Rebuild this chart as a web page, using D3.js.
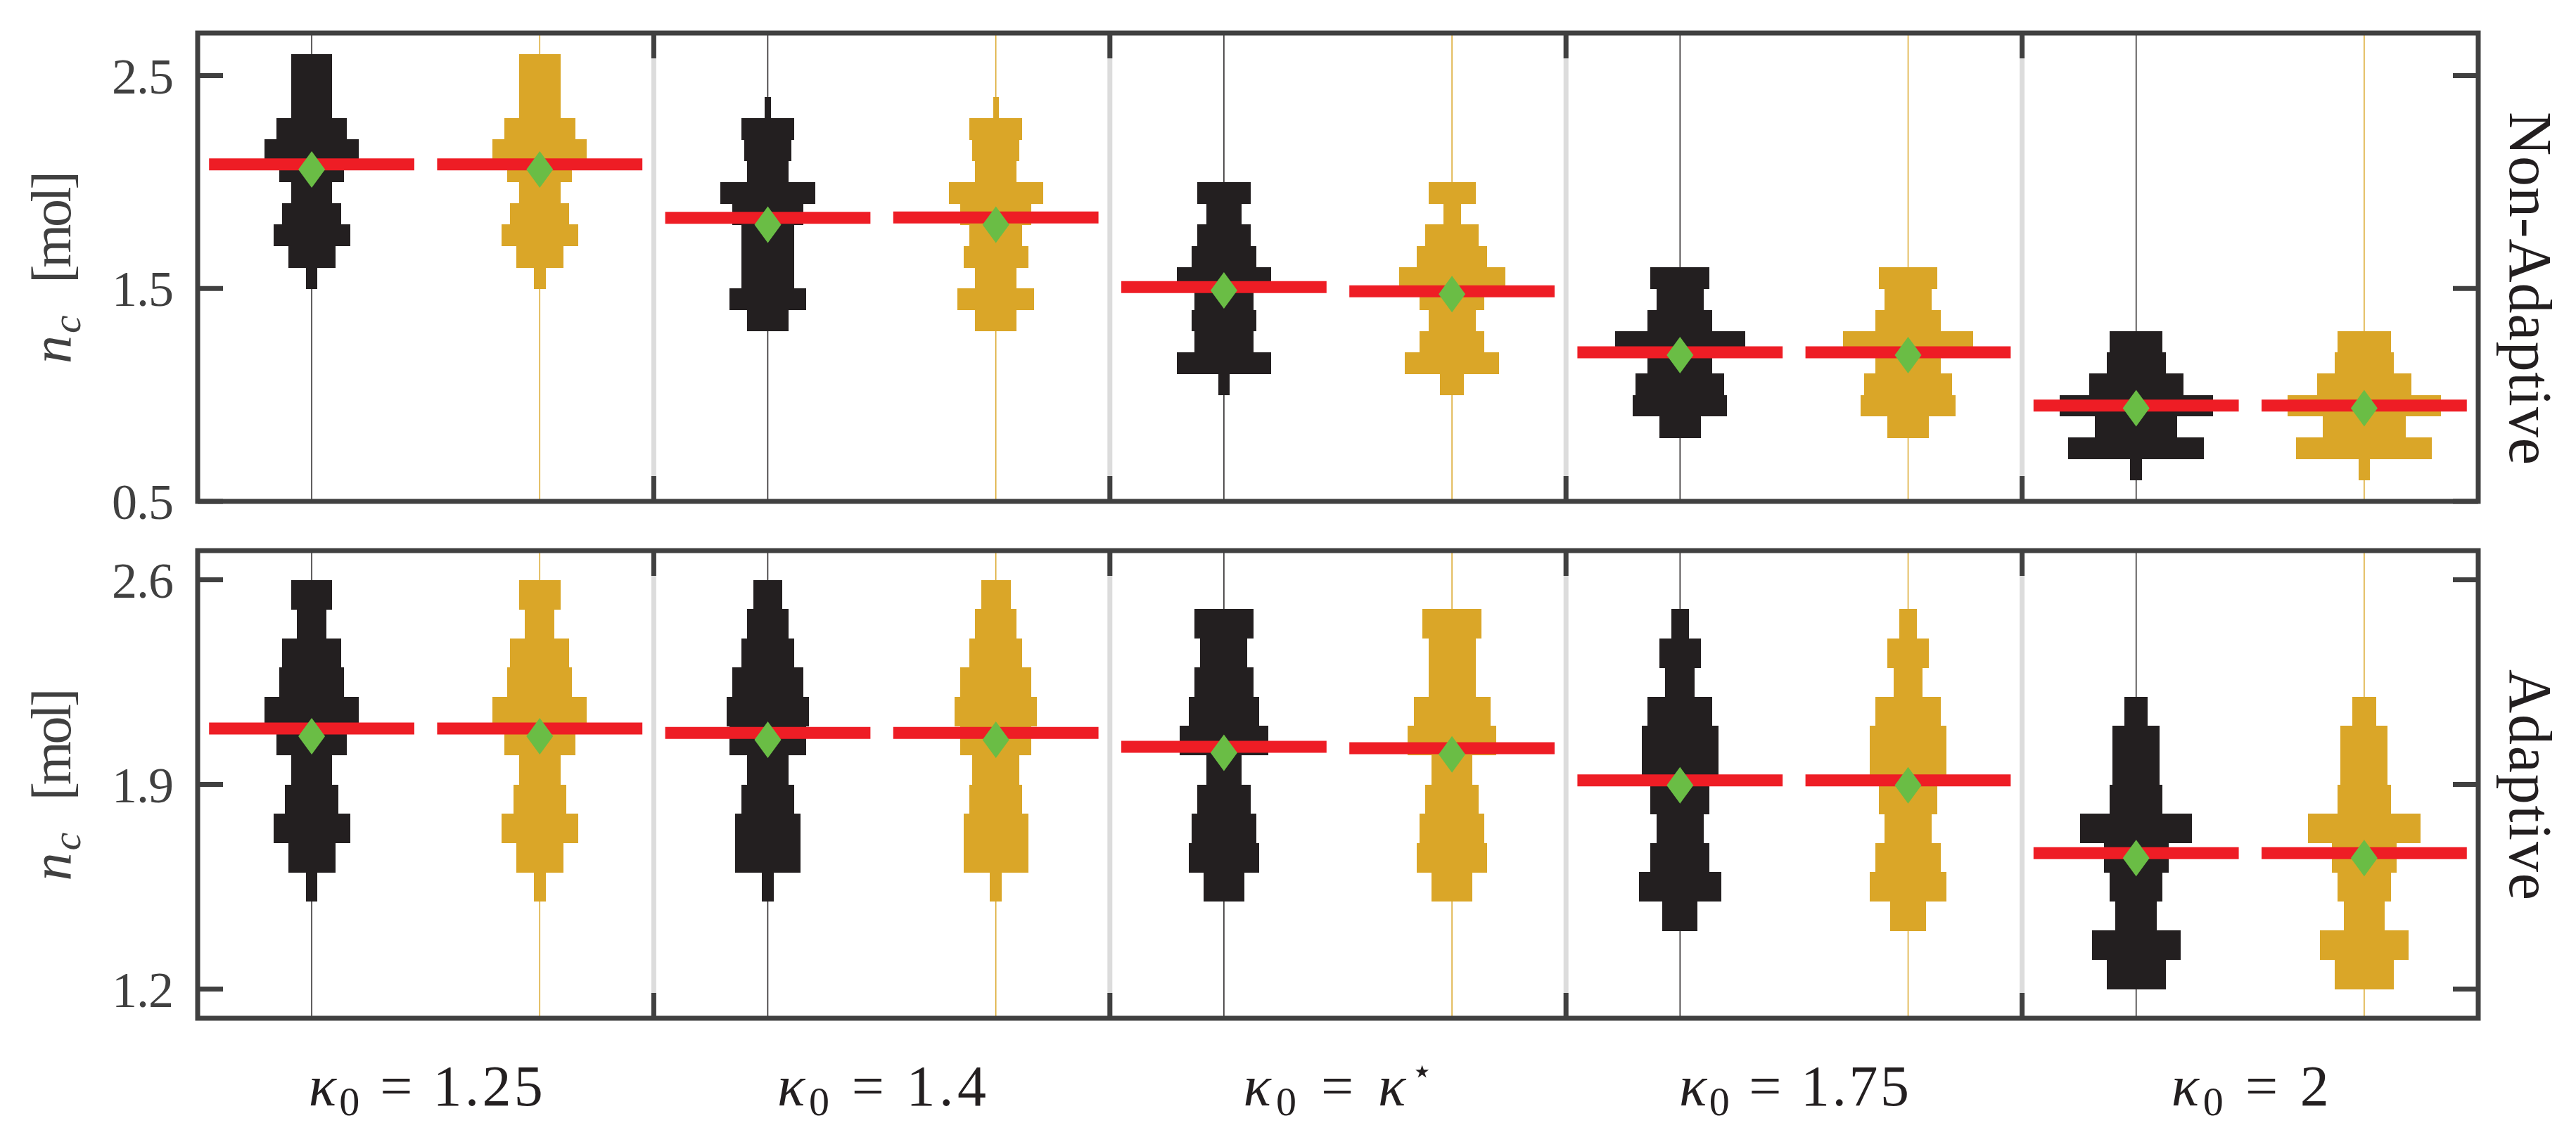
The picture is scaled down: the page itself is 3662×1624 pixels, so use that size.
<!DOCTYPE html>
<html>
<head>
<meta charset="utf-8">
<script src="https://cdn.jsdelivr.net/npm/d3@7/dist/d3.min.js"></script>
<style>
    body { margin: 0; background: #fff; }
    text { font-family: "Liberation Serif", "DejaVu Serif", serif; }
</style>
</head>
<body>
<div id="chart"></div>
<script>

/* * * * * * * * * * * * * *
*         DATA              *
* * * * * * * * * * * * * */

// x categories (kappa_0 values), last one is kappa star
const groupValues = ["1.25", "1.4", "star", "1.75", "2"];
const rowNames = ["Non-Adaptive", "Adaptive"];
const binSize = 0.1;

// histogram violins: lowest bin edge + counts per 0.1 bin (bottom -> top)
const nonAdaptiveDarkLo = [1.5, 1.3, 1.0, 0.8, 0.6];
const nonAdaptiveDarkCounts = [
    [2, 8, 13, 10, 7, 11, 16, 12, 7, 7, 7],
    [7, 13, 9, 9, 9, 12, 16, 7, 8, 9, 1],
    [2, 16, 10, 11, 10, 16, 11, 9, 6, 9],
    [7, 16, 15, 11, 22, 11, 8, 10],
    [2, 23, 14, 26, 16, 10, 9]
];
const nonAdaptiveGoldLo = [1.5, 1.3, 1.0, 0.8, 0.6];
const nonAdaptiveGoldCounts = [
    [2, 8, 13, 10, 7, 11, 16, 12, 7, 7, 7],
    [7, 13, 7, 11, 9, 12, 16, 7, 8, 9, 1],
    [4, 16, 11, 8, 11, 18, 12, 9, 3, 8],
    [7, 16, 15, 11, 22, 11, 8, 10],
    [2, 23, 14, 26, 16, 10, 9]
];
const adaptiveDarkLo = [1.5, 1.5, 1.5, 1.4, 1.2];
const adaptiveDarkCounts = [
    [2, 8, 13, 9, 7, 12, 16, 11, 10, 5, 7],
    [2, 11, 11, 9, 7, 13, 14, 12, 9, 7, 5],
    [7, 12, 11, 9, 6, 15, 12, 10, 8, 10],
    [6, 14, 10, 8, 10, 13, 13, 11, 5, 7, 3],
    [10, 15, 7, 9, 11, 19, 9, 8, 8, 4]
];
const adaptiveGoldLo = [1.5, 1.5, 1.5, 1.4, 1.2];
const adaptiveGoldCounts = [
    [2, 8, 13, 9, 7, 12, 16, 11, 10, 5, 7],
    [2, 11, 11, 9, 8, 12, 14, 12, 9, 7, 5],
    [7, 12, 11, 9, 7, 15, 13, 8, 8, 10],
    [6, 13, 11, 8, 10, 13, 13, 11, 5, 7, 3],
    [10, 15, 7, 9, 11, 19, 9, 8, 8, 4]
];

// means (red bars) and medians (green diamonds)
const nonAdaptiveDarkMean = [2.083, 1.832, 1.507, 1.200, 0.950];
const nonAdaptiveGoldMean = [2.083, 1.834, 1.487, 1.200, 0.950];
const nonAdaptiveDarkMedian = [2.059, 1.800, 1.491, 1.187, 0.938];
const nonAdaptiveGoldMedian = [2.059, 1.800, 1.474, 1.187, 0.938];
const adaptiveDarkMean = [2.091, 2.076, 2.029, 1.914, 1.665];
const adaptiveGoldMean = [2.091, 2.076, 2.024, 1.914, 1.665];
const adaptiveDarkMedian = [2.065, 2.053, 2.008, 1.897, 1.648];
const adaptiveGoldMedian = [2.065, 2.053, 2.003, 1.897, 1.648];

// axes
const nonAdaptiveTicks = [0.5, 1.5, 2.5];
const nonAdaptiveDomain = [0.5, 2.7];
const adaptiveTicks = [1.2, 1.9, 2.6];
const adaptiveDomain = [1.1, 2.7];


/* * * * * * * * * * * * * *
*         LAYOUT            *
* * * * * * * * * * * * * */

const width = 3662, height = 1624;
const plotLeft = 281, plotRight = 3523;
const frameColor = '#404040';
const colors = {dark: '#231f20', gold: '#daa628', mean: '#ee1d25', median: '#6abd45', grid: '#dcdcdc'};
const tickLen = 36;
const serif = '"Liberation Serif", "DejaVu Serif", serif';

function makeViolins(lo, counts, mean, median, series) {
    return counts.map((c, g) => ({
        group: g, series: series, lo: lo[g], counts: c, mean: mean[g], median: median[g]
    }));
}

const panels = [
    {
        name: rowNames[0], top: 47, bottom: 713, domain: nonAdaptiveDomain, ticks: nonAdaptiveTicks,
        violins: makeViolins(nonAdaptiveDarkLo, nonAdaptiveDarkCounts, nonAdaptiveDarkMean, nonAdaptiveDarkMedian, 0)
            .concat(makeViolins(nonAdaptiveGoldLo, nonAdaptiveGoldCounts, nonAdaptiveGoldMean, nonAdaptiveGoldMedian, 1)),
        labelY: 410, labelLen: 502
    },
    {
        name: rowNames[1], top: 783, bottom: 1448, domain: adaptiveDomain, ticks: adaptiveTicks,
        violins: makeViolins(adaptiveDarkLo, adaptiveDarkCounts, adaptiveDarkMean, adaptiveDarkMedian, 0)
            .concat(makeViolins(adaptiveGoldLo, adaptiveGoldCounts, adaptiveGoldMean, adaptiveGoldMedian, 1)),
        labelY: 1116, labelLen: 328
    }
];

const svg = d3.select('#chart').append('svg')
    .attr('width', width)
    .attr('height', height)
    .attr('font-family', serif);

// 10 slots, 2 per group
const x = d3.scaleLinear().domain([0, 10]).range([plotLeft, plotRight]);
const slot = d => d.group * 2 + d.series + 0.5;
// full violin width per count
const w = d3.scaleLinear().domain([0, 26]).range([0, 218]);
const dividers = [2, 4, 6, 8];

panels.forEach(p => {
    const y = d3.scaleLinear().domain(p.domain).range([p.bottom, p.top]);
    const g = svg.append('g');

    // light group separators
    g.selectAll('.divider')
        .data(dividers)
        .join('line')
        .attr('x1', d => x(d)).attr('x2', d => x(d))
        .attr('y1', p.top).attr('y2', p.bottom)
        .attr('stroke', colors.grid)
        .attr('stroke-width', 7);

    // thin centre lines
    g.selectAll('.centre')
        .data(p.violins)
        .join('line')
        .attr('x1', d => x(slot(d))).attr('x2', d => x(slot(d)))
        .attr('y1', p.top).attr('y2', p.bottom)
        .attr('stroke', d => d.series ? colors.gold : colors.dark)
        .attr('stroke-width', 1.5);

    // histogram violins
    p.violins.forEach(v => {
        const bins = v.counts.map((c, i) => ({c: c, a: v.lo + i * binSize, b: v.lo + (i + 1) * binSize}));
        g.append('g')
            .attr('shape-rendering', 'crispEdges')
            .selectAll('rect')
            .data(bins)
            .join('rect')
            .attr('x', d => x(slot(v)) - w(d.c) / 2)
            .attr('width', d => w(d.c))
            .attr('y', d => y(d.b))
            .attr('height', d => y(d.a) - y(d.b) + 0.5)
            .attr('fill', v.series ? colors.gold : colors.dark);
    });

    // mean bars
    g.selectAll('.mean')
        .data(p.violins)
        .join('line')
        .attr('x1', d => x(slot(d) - 0.45)).attr('x2', d => x(slot(d) + 0.45))
        .attr('y1', d => y(d.mean)).attr('y2', d => y(d.mean))
        .attr('stroke', colors.mean)
        .attr('stroke-width', 17);

    // median diamonds
    g.selectAll('.median')
        .data(p.violins)
        .join('path')
        .attr('d', d => {
            const cx = x(slot(d)), cy = y(d.median);
            return `M${cx},${cy - 26}L${cx + 19},${cy}L${cx},${cy + 26}L${cx - 19},${cy}Z`;
        })
        .attr('fill', colors.median);

    // frame
    g.append('rect')
        .attr('x', plotLeft).attr('y', p.top)
        .attr('width', plotRight - plotLeft).attr('height', p.bottom - p.top)
        .attr('fill', 'none')
        .attr('stroke', frameColor)
        .attr('stroke-width', 7);

    // group ticks on top and bottom edges
    dividers.forEach(d => {
        [[p.top, p.top + tickLen], [p.bottom - tickLen, p.bottom]].forEach(seg => {
            g.append('line')
                .attr('x1', x(d)).attr('x2', x(d))
                .attr('y1', seg[0]).attr('y2', seg[1])
                .attr('stroke', frameColor)
                .attr('stroke-width', 7);
        });
    });

    // y ticks, left and right
    g.selectAll('.ytick')
        .data(p.ticks)
        .join('g')
        .each(function(t) {
            const s = d3.select(this);
            s.append('line')
                .attr('x1', plotLeft).attr('x2', plotLeft + tickLen)
                .attr('y1', y(t)).attr('y2', y(t))
                .attr('stroke', frameColor).attr('stroke-width', 7);
            s.append('line')
                .attr('x1', plotRight - tickLen).attr('x2', plotRight)
                .attr('y1', y(t)).attr('y2', y(t))
                .attr('stroke', frameColor).attr('stroke-width', 7);
            s.append('text')
                .attr('x', plotLeft - 34)
                .attr('y', y(t))
                .attr('dy', '0.35em')
                .attr('text-anchor', 'end')
                .attr('font-size', 72)
                .attr('fill', frameColor)
                .attr('textLength', 88)
                .text(t.toFixed(1));
        });

    // y axis label: n_c [mol], pieces laid out along the rotated axis
    const mid = (p.top + p.bottom) / 2;
    const yl = g.append('g')
        .attr('transform', `translate(100,${mid}) rotate(-90)`)
        .attr('fill', frameColor);
    yl.append('text')
        .attr('x', -137).attr('font-size', 80).attr('font-style', 'italic')
        .attr('textLength', 40).text('n');
    yl.append('text')
        .attr('x', -94).attr('y', 14).attr('font-size', 58).attr('font-style', 'italic')
        .attr('textLength', 27).text('c');
    yl.append('text')
        .attr('x', -23).attr('font-size', 80)
        .attr('textLength', 160).text('[mol]');

    // row label on the right
    g.append('text')
        .attr('transform', `translate(3568,${p.labelY}) rotate(90)`)
        .attr('text-anchor', 'middle')
        .attr('font-size', 86)
        .attr('fill', colors.dark)
        .attr('textLength', p.labelLen)
        .text(p.name);
});

// x labels: kappa_0 = ...
const xLabelLen = [333, 297, 269, 327, 224];
const xl = svg.selectAll('.xlabel')
    .data(groupValues)
    .join('text')
    .attr('x', (d, i) => x(i * 2 + 1))
    .attr('y', 1572)
    .attr('text-anchor', 'middle')
    .attr('font-size', 82)
    .attr('fill', colors.dark)
    .attr('textLength', (d, i) => xLabelLen[i]);

xl.each(function(d) {
    const t = d3.select(this);
    t.append('tspan').attr('font-style', 'italic').text('\u03ba');
    t.append('tspan').attr('font-size', 58).attr('dy', 14).text('0');
    if (d === 'star') {
        t.append('tspan').attr('dy', -14).text(' = ');
        t.append('tspan').attr('font-style', 'italic').text('\u03ba');
        t.append('tspan').attr('font-size', 50).attr('dy', -32).text('\u22c6');
    } else {
        t.append('tspan').attr('dy', -14).text(' = ' + d);
    }
});

</script>
</body>
</html>
